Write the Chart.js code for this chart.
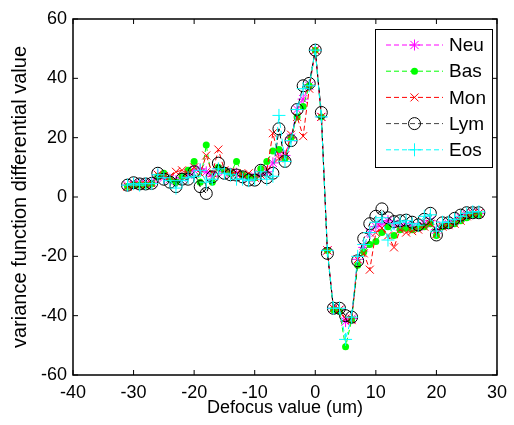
<!DOCTYPE html>
<html>
<head>
<meta charset="utf-8">
<script src="https://cdn.jsdelivr.net/npm/chart.js"></script>
<style>
  html, body { margin: 0; padding: 0; background: #fff; }
  #wrap { width: 514px; height: 425px; }
</style>
</head>
<body>
<div id="wrap"><canvas id="chart" width="514" height="425"></canvas></div>
<script>
// Defocus positions (um)
const defocus = [-31, -30, -29, -28, -27, -26, -25, -24, -23, -22, -21, -20, -19, -18, -17, -16,
  -15, -14, -13, -12, -11, -10, -9, -8, -7, -6, -5, -4, -3, -2, -1, 0,
  1, 2, 3, 4, 5, 6, 7, 8, 9, 10, 11, 12, 13, 14, 15, 16, 17, 18, 19, 20, 21, 22, 23, 24, 25, 26, 27];

// variance function differential value per cell type
const neu = [4, 4.5, 4.5, 4.5, 5, 7.5, 6.5, 6, 5.5, 6.5, 7.5, 9, 9.5, 8.5, 7, 9.5,
  8.5, 8, 8, 7, 6.5, 7, 7.5, 8.5, 11.5, 15, 14, 20, 29.5, 33, 37.5, 49.5,
  27, -18, -37.5, -38, -42, -41, -21, -17, -12, -10, -9, -8, -9, -10, -9.5, -10, -10, -9, -8, -11, -9.5, -9, -8, -7, -6, -5.5, -5.5];
const bas = [3.5, 4, 4, 4, 4.5, 7, 8, 6, 5, 7, 9, 12, 5, 17.5, 5, 10,
  9, 8, 12, 7.5, 7, 6.5, 9.5, 12, 15.5, 16, 13, 20, 27, 30.5, 37.5, 49.5,
  27, -18, -38, -38.5, -50.5, -41.5, -23, -18.5, -16, -15, -12, -10, -13, -11, -10.5, -11, -10.5, -10, -9, -13, -10, -9.5, -9, -8, -7, -6, -6];
const mon = [3.5, 4, 4, 4, 4.5, 7.5, 7, 7, 8.5, 9, 8, 10, 8, 14, 8, 16,
  9, 8.5, 8, 7.5, 8, 6.5, 7.5, 9, 21.5, 13, 14, 21, 27, 20.5, 36.5, 49.5,
  27, -18, -37.5, -38, -41, -41.5, -21, -19, -24.5, -12, -10.5, -13, -17, -11, -12, -11.5, -11, -10, -9, -12.5, -10, -9.5, -9, -8, -6.5, -5.5, -5.5];
const lym = [4, 4.8, 4.4, 4.4, 4.6, 8, 6, 5, 3.5, 6, 6, 8.5, 3.5, 1.2, 6.8, 11.4,
  8, 7.5, 7.4, 6.8, 5.7, 5.7, 9, 6.5, 8, 23, 12, 19, 29.5, 37.5, 38.3, 49.5,
  28.5, -19, -37.5, -37.5, -40, -40.5, -21.5, -14, -9, -6.5, -4, -7, -8.3, -8, -7.8, -8.5, -9.4, -7.5, -5.5, -12.8, -8.7, -8.7, -7.2, -6.1, -5.3, -5.3, -5.3];
const eos = [4, 4.5, 4, 4.5, 4.5, 7.5, 6.5, 5.5, 3, 5.5, 6.5, 7, 9, 5, 6, 9.5,
  8, 7.5, 6, 6, 5.5, 6, 8.5, 6, 7, 27.5, 12, 19, 29.5, 36.5, 37.5, 49.5,
  27, -18, -37.5, -37.5, -48, -40.5, -20, -16, -12, -8.5, -7, -14.5, -9, -8.5, -8, -9, -9.5, -6.5, -6, -11.5, -8.5, -8.5, -7.5, -6.5, -5.5, -5, -5];

const seriesNames = ['Neu', 'Bas', 'Mon', 'Lym', 'Eos'];
const seriesValues = [neu, bas, mon, lym, eos];
const seriesColors = ['#ff00ff', '#00ff00', '#ff0000', '#000000', '#00ffff'];
const seriesMarkers = ['star', 'dot', 'x', 'ring', 'plus'];

const xTicks = [-40, -30, -20, -10, 0, 10, 20, 30];
const yTicks = [-60, -40, -20, 0, 20, 40, 60];

const FONT = '"Liberation Sans", Arial, Helvetica, sans-serif';

// draw one MATLAB-like marker
function drawMarker(ctx, kind, color, x, y) {
  ctx.save();
  ctx.strokeStyle = color;
  ctx.fillStyle = color;
  ctx.lineWidth = 1;
  ctx.setLineDash([]);
  ctx.beginPath();
  if (kind === 'star') {
    const r = 5.5;
    ctx.moveTo(x - r, y); ctx.lineTo(x + r, y);
    ctx.moveTo(x, y - r); ctx.lineTo(x, y + r);
    const d = r * 0.75;
    ctx.moveTo(x - d, y - d); ctx.lineTo(x + d, y + d);
    ctx.moveTo(x - d, y + d); ctx.lineTo(x + d, y - d);
    ctx.stroke();
  } else if (kind === 'dot') {
    ctx.arc(x, y, 3.5, 0, Math.PI * 2);
    ctx.fill();
  } else if (kind === 'x') {
    const d = 4;
    ctx.moveTo(x - d, y - d); ctx.lineTo(x + d, y + d);
    ctx.moveTo(x - d, y + d); ctx.lineTo(x + d, y - d);
    ctx.stroke();
  } else if (kind === 'ring') {
    ctx.arc(x, y, 6, 0, Math.PI * 2);
    ctx.stroke();
  } else if (kind === 'plus') {
    const r = 6.5;
    ctx.moveTo(x - r, y); ctx.lineTo(x + r, y);
    ctx.moveTo(x, y - r); ctx.lineTo(x, y + r);
    ctx.stroke();
  }
  ctx.restore();
}

// markers are drawn by hand so they look like MATLAB's
const markerPlugin = {
  id: 'markers',
  afterDatasetDraw(chart, args) {
    const meta = chart.getDatasetMeta(args.index);
    const i = args.index;
    const ctx = chart.ctx;
    ctx.save();
    ctx.beginPath();
    ctx.rect(chart.chartArea.left, chart.chartArea.top, chart.chartArea.width, chart.chartArea.height);
    ctx.clip();
    meta.data.forEach(pt => drawMarker(ctx, seriesMarkers[i], seriesColors[i], pt.x, pt.y));
    ctx.restore();
  }
};

// box, inward ticks and the legend
const framePlugin = {
  id: 'frame',
  afterDraw(chart) {
    const ctx = chart.ctx;
    const a = chart.chartArea;
    const xs = chart.scales.x, ys = chart.scales.y;
    ctx.save();
    ctx.strokeStyle = '#000';
    ctx.lineWidth = 1.5;
    ctx.strokeRect(a.left, a.top, a.right - a.left, a.bottom - a.top);
    ctx.lineWidth = 1;
    const tl = 5;
    ctx.beginPath();
    xTicks.forEach(v => {
      const px = xs.getPixelForValue(v);
      ctx.moveTo(px, a.bottom); ctx.lineTo(px, a.bottom - tl);
      ctx.moveTo(px, a.top); ctx.lineTo(px, a.top + tl);
    });
    yTicks.forEach(v => {
      const py = ys.getPixelForValue(v);
      ctx.moveTo(a.left, py); ctx.lineTo(a.left + tl, py);
      ctx.moveTo(a.right, py); ctx.lineTo(a.right - tl, py);
    });
    ctx.stroke();

    // legend
    const lx = 375, ly = 29, lw = 117, lh = 138;
    ctx.fillStyle = '#fff';
    ctx.fillRect(lx, ly, lw, lh);
    ctx.lineWidth = 1;
    ctx.strokeRect(lx + 0.5, ly + 0.5, lw, lh);
    ctx.font = '19px ' + FONT;
    ctx.textBaseline = 'middle';
    seriesNames.forEach((name, i) => {
      const y = ly + 16 + i * 26.2;
      ctx.save();
      ctx.strokeStyle = seriesColors[i] === '#000000' ? '#444' : seriesColors[i];
      ctx.setLineDash([5, 3]);
      ctx.beginPath();
      ctx.moveTo(386, y); ctx.lineTo(443, y);
      ctx.stroke();
      ctx.restore();
      drawMarker(ctx, seriesMarkers[i], seriesColors[i], 414.5, y);
      ctx.fillStyle = '#000';
      ctx.fillText(name, 449, y + 1);
    });
    ctx.restore();
  }
};

const datasets = seriesNames.map((name, i) => ({
  label: name,
  data: defocus.map((x, k) => ({ x: x, y: seriesValues[i][k] })),
  borderColor: seriesColors[i],
  borderWidth: 1,
  borderDash: [5, 3],
  pointRadius: 0,
  fill: false,
  tension: 0,
  order: seriesNames.length - i
}));

new Chart(document.getElementById('chart'), {
  type: 'line',
  data: { datasets: datasets },
  options: {
    responsive: false,
    animation: false,
    events: [],
    layout: { padding: { top: 19, right: 13, left: 0, bottom: 0 } },
    plugins: {
      legend: { display: false },
      tooltip: { enabled: false }
    },
    scales: {
      x: {
        type: 'linear',
        min: -40, max: 30,
        afterFit: s => { s.height = 50; },
        afterBuildTicks: s => { s.ticks = xTicks.map(v => ({ value: v })); },
        grid: { display: false, drawTicks: false },
        border: { display: false },
        ticks: { color: '#000', font: { size: 18, family: FONT }, padding: 7, maxRotation: 0 },
        title: { display: true, text: 'Defocus value (um)', color: '#000',
                 font: { size: 18, family: FONT }, padding: { top: 0, bottom: 6 } }
      },
      y: {
        min: -60, max: 60,
        afterFit: s => { s.width = 73; },
        afterBuildTicks: s => { s.ticks = yTicks.map(v => ({ value: v })); },
        grid: { display: false, drawTicks: false },
        border: { display: false },
        ticks: { color: '#000', font: { size: 18, family: FONT }, padding: 6 },
        title: { display: true, text: 'variance function differential value', color: '#000',
                 font: { size: 20, family: FONT }, padding: { top: 8, bottom: 0 } }
      }
    }
  },
  plugins: [markerPlugin, framePlugin]
});
</script>
</body>
</html>
